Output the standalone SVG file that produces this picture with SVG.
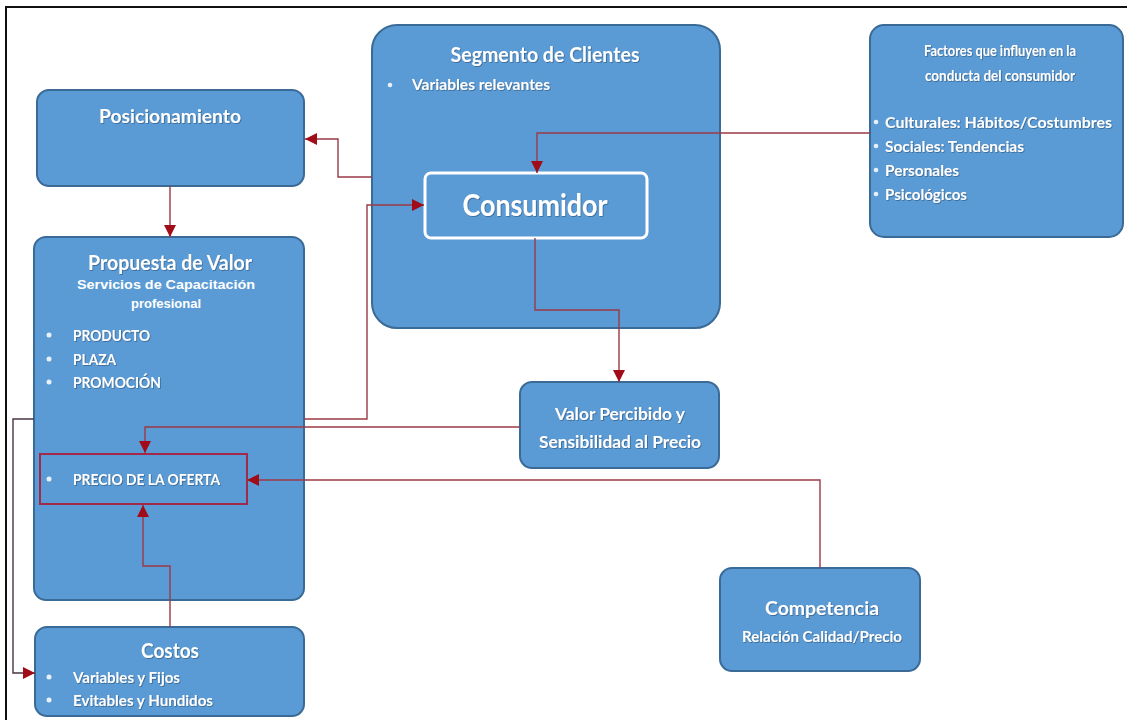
<svg xmlns="http://www.w3.org/2000/svg" width="1127" height="720" viewBox="0 0 1127 720">
<style>
.box{fill:#5b9bd5;stroke:#3a6a96;stroke-width:2}
.t{font-family:Lato,"Open Sans","Liberation Sans",sans-serif;fill:#ffffff;font-weight:bold;filter:url(#sh)}
.a{font-family:"Liberation Sans",Arial,sans-serif;font-weight:bold;fill:#ffffff}
.c{fill:none;stroke:#9b3a45;stroke-width:1.4}
.dk{stroke:#4a3444}
.dot{fill:#e8f1fa}
</style>
<defs>
<filter id="sh" x="-5%" y="-20%" width="110%" height="150%">
<feDropShadow dx="0.8" dy="0.8" stdDeviation="0.6" flood-color="#1f3f60" flood-opacity="0.6"/>
</filter>
<marker id="ar" viewBox="0 0 12 12" refX="12" refY="6" markerWidth="12" markerHeight="12" markerUnits="userSpaceOnUse" orient="auto-start-reverse">
<path d="M0,0 L12,6 L0,12 z" fill="#a00d18"/>
</marker>
</defs>
<rect width="1127" height="720" fill="#ffffff"/>
<path d="M6,720 V7 H1127" fill="none" stroke="#111" stroke-width="2"/>

<g id="posicionamiento">
<rect class="box" x="37" y="90" width="267" height="96" rx="12"/>
<text class="t" x="170" y="123" font-size="18" text-anchor="middle" textLength="142" lengthAdjust="spacingAndGlyphs">Posicionamiento</text>
</g>

<g id="segmento">
<rect class="box" x="372" y="25" width="348" height="303" rx="25"/>
<text class="t" x="545" y="62" font-size="20" text-anchor="middle" textLength="189" lengthAdjust="spacingAndGlyphs">Segmento de Clientes</text>
<circle class="dot" cx="390" cy="85" r="2.3"/>
<text class="t" x="412" y="90" font-size="14.5" textLength="138" lengthAdjust="spacingAndGlyphs">Variables relevantes</text>
</g>

<g id="consumidor">
<rect x="425" y="173" width="222" height="65" rx="6" fill="#5b9bd5" stroke="#ffffff" stroke-width="3"/>
<text class="t" x="535" y="216" font-size="30" text-anchor="middle" textLength="145" lengthAdjust="spacingAndGlyphs">Consumidor</text>
</g>

<g id="factores">
<rect class="box" x="870" y="25" width="253" height="212" rx="14"/>
<text class="t" x="1000" y="56" font-size="15.5" text-anchor="middle" textLength="152" lengthAdjust="spacingAndGlyphs">Factores que influyen en la</text>
<text class="t" x="1000" y="81" font-size="15.5" text-anchor="middle" textLength="150" lengthAdjust="spacingAndGlyphs">conducta del consumidor</text>
<circle class="dot" cx="876" cy="122" r="2.3"/>
<text class="t" x="885" y="128" font-size="15.5" textLength="227" lengthAdjust="spacingAndGlyphs">Culturales: Hábitos/Costumbres</text>
<circle class="dot" cx="876" cy="146" r="2.3"/>
<text class="t" x="885" y="152" font-size="15.5" textLength="139" lengthAdjust="spacingAndGlyphs">Sociales: Tendencias</text>
<circle class="dot" cx="876" cy="170" r="2.3"/>
<text class="t" x="885" y="176" font-size="15.5" textLength="74" lengthAdjust="spacingAndGlyphs">Personales</text>
<circle class="dot" cx="876" cy="194" r="2.3"/>
<text class="t" x="885" y="200" font-size="15.5" textLength="82" lengthAdjust="spacingAndGlyphs">Psicológicos</text>
</g>

<g id="propuesta">
<rect class="box" x="34" y="237" width="270" height="363" rx="12"/>
<text class="t" x="170" y="270" font-size="21" text-anchor="middle" textLength="164" lengthAdjust="spacingAndGlyphs">Propuesta de Valor</text>
<text class="a" x="166" y="289" font-size="13" text-anchor="middle" textLength="178" lengthAdjust="spacingAndGlyphs">Servicios de Capacitación</text>
<text class="a" x="166" y="308" font-size="13" text-anchor="middle">profesional</text>
<circle class="dot" cx="49" cy="335" r="2.5"/>
<text class="t" x="73" y="341" font-size="15.5" textLength="77" lengthAdjust="spacingAndGlyphs">PRODUCTO</text>
<circle class="dot" cx="49" cy="359" r="2.5"/>
<text class="t" x="73" y="365" font-size="15.5" textLength="43" lengthAdjust="spacingAndGlyphs">PLAZA</text>
<circle class="dot" cx="49" cy="382" r="2.5"/>
<text class="t" x="73" y="388" font-size="15.5" textLength="88" lengthAdjust="spacingAndGlyphs">PROMOCIÓN</text>
</g>

<g id="precio">
<rect x="40" y="454" width="207" height="50" fill="none" stroke="#a3294a" stroke-width="2"/>
<circle class="dot" cx="49" cy="479" r="2.5"/>
<text class="t" x="73" y="485" font-size="15" textLength="147" lengthAdjust="spacingAndGlyphs">PRECIO DE LA OFERTA</text>
</g>

<g id="valor-percibido">
<rect class="box" x="520" y="382" width="199" height="86" rx="12"/>
<text class="t" x="620" y="420" font-size="17.5" text-anchor="middle" textLength="130" lengthAdjust="spacingAndGlyphs">Valor Percibido y</text>
<text class="t" x="620" y="448" font-size="17.5" text-anchor="middle" textLength="162" lengthAdjust="spacingAndGlyphs">Sensibilidad al Precio</text>
</g>

<g id="competencia">
<rect class="box" x="720" y="568" width="200" height="103" rx="12"/>
<text class="t" x="822" y="615" font-size="19.5" text-anchor="middle" textLength="114" lengthAdjust="spacingAndGlyphs">Competencia</text>
<text class="t" x="822" y="642" font-size="15" text-anchor="middle" textLength="160" lengthAdjust="spacingAndGlyphs">Relación Calidad/Precio</text>
</g>

<g id="costos">
<rect class="box" x="35" y="627" width="269" height="89" rx="12"/>
<text class="t" x="170" y="658" font-size="20" text-anchor="middle" textLength="58" lengthAdjust="spacingAndGlyphs">Costos</text>
<circle class="dot" cx="49" cy="677" r="2.5"/>
<text class="t" x="73" y="683" font-size="15.5" textLength="107" lengthAdjust="spacingAndGlyphs">Variables y Fijos</text>
<circle class="dot" cx="49" cy="700" r="2.5"/>
<text class="t" x="73" y="706" font-size="15.5" textLength="140" lengthAdjust="spacingAndGlyphs">Evitables y Hundidos</text>
</g>

<g id="connectors">
<path class="c" d="M372,177 H338 V139 H305" marker-end="url(#ar)"/>
<path class="c" d="M170,186 V237" marker-end="url(#ar)"/>
<path class="c" d="M870,133 H537 V173" marker-end="url(#ar)"/>
<path class="c" d="M424,205 H367 V419 H304" marker-start="url(#ar)"/>
<path class="c dk" d="M34,419 H13 V673 H35" marker-end="url(#ar)"/>
<path class="c" d="M535,238 V310 H619 V382" marker-end="url(#ar)"/>
<path class="c" d="M520,427 H145 V453" marker-end="url(#ar)"/>
<path class="c" d="M820,568 V480 H247" marker-end="url(#ar)"/>
<path class="c" d="M170,627 V566 H143 V505" marker-end="url(#ar)"/>
</g>
</svg>
